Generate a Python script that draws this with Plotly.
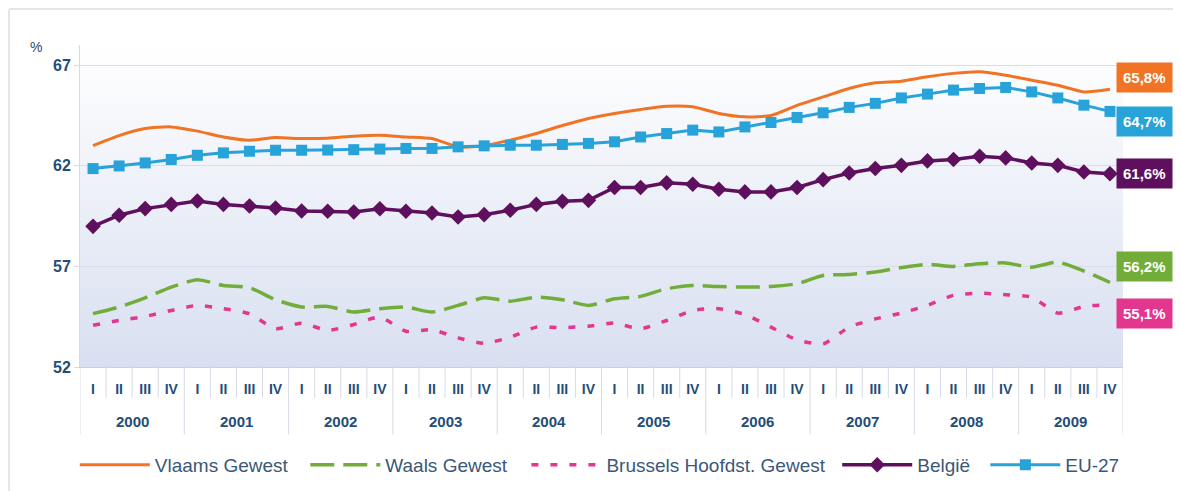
import base64
import plotly.graph_objects as go

years = [str(y) for y in range(2000, 2010)]
quarters = ["I", "II", "III", "IV"]
x_years = [y for y in years for _ in quarters]
x_quarters = [q for _ in years for q in quarters]

vlaams = [63.0, 63.5, 63.85, 63.93, 63.72, 63.43, 63.27, 63.4, 63.35, 63.37, 63.47, 63.52,
          63.43, 63.35, 62.94, 63.0, 63.27, 63.6, 64.0, 64.35, 64.6, 64.8, 64.96, 64.93,
          64.6, 64.43, 64.5, 65.0, 65.42, 65.84, 66.12, 66.2, 66.42, 66.59, 66.67, 66.5,
          66.25, 66.0, 65.67, 65.8]
waals = [54.65, 54.98, 55.44, 55.97, 56.34, 56.05, 55.94, 55.34, 54.98, 55.01, 54.73, 54.9,
         54.98, 54.73, 55.06, 55.44, 55.27, 55.47, 55.34, 55.06, 55.39, 55.51, 55.89, 56.05,
         56.0, 55.97, 56.0, 56.14, 56.55, 56.6, 56.72, 56.94, 57.1, 57.0, 57.13, 57.17,
         56.96, 57.21, 56.77, 56.2]
brussel = [54.07, 54.31, 54.51, 54.81, 55.06, 54.9, 54.65, 53.9, 54.18, 53.82, 54.11, 54.48,
           53.78, 53.85, 53.45, 53.18, 53.48, 53.98, 53.95, 54.03, 54.18, 53.9, 54.31, 54.81,
           54.9, 54.61, 53.98, 53.35, 53.15, 53.98, 54.39, 54.68, 55.06, 55.56, 55.67, 55.59,
           55.47, 54.68, 55.01, 55.1]
belgie = [58.99, 59.54, 59.87, 60.08, 60.25, 60.08, 60.0, 59.9, 59.75, 59.74, 59.7, 59.86,
          59.74, 59.65, 59.45, 59.57, 59.79, 60.08, 60.23, 60.28, 60.92, 60.92, 61.15, 61.08,
          60.83, 60.7, 60.7, 60.92, 61.31, 61.64, 61.86, 62.02, 62.24, 62.31, 62.47, 62.39,
          62.14, 62.02, 61.69, 61.6]
eu27 = [61.86, 61.99, 62.14, 62.31, 62.52, 62.64, 62.72, 62.77, 62.77, 62.78, 62.8, 62.83,
        62.86, 62.86, 62.94, 62.99, 63.02, 63.02, 63.06, 63.11, 63.19, 63.43, 63.6, 63.77,
        63.68, 63.93, 64.15, 64.4, 64.63, 64.9, 65.1, 65.37, 65.56, 65.76, 65.84, 65.89,
        65.67, 65.37, 65.01, 64.7]

series = [
    ("Vlaams Gewest", vlaams, "#f07424", "solid", None, "spline", 3),
    ("Waals Gewest", waals, "#72ad3a", "24px,9px", None, "spline", 3.5),
    ("Brussels Hoofdst. Gewest", brussel, "#e3368f", "7px,12px", None, "spline", 3.5),
    ("België", belgie, "#5e0f5e", "solid", "diamond", "linear", 3.5),
    ("EU-27", eu27, "#27a3d9", "solid", "square", "linear", 3),
]
label_shift = {"Vlaams Gewest": 12, "Waals Gewest": 16, "Brussels Hoofdst. Gewest": -9,
               "België": 0, "EU-27": -10}
legend_x = [-0.005, 0.216, 0.428, 0.726, 0.868]

FONT = "Liberation Sans, Arial"
fig = go.Figure()
idx = list(range(len(x_quarters)))
for k, (name, vals, color, dash, marker, shape, width) in enumerate(series):
    kw = dict(mode="lines")
    if marker:
        kw = dict(mode="lines+markers",
                  marker=dict(symbol=marker, size=12 if marker == "diamond" else 11, color=color))
    fig.add_trace(go.Scatter(x=idx, y=vals, name=name, showlegend=True,
                             customdata=list(zip(x_years, x_quarters)),
                             hovertemplate="%{customdata[1]} %{customdata[0]}: %{y}<extra>" + name + "</extra>",
                             legend="legend" if k == 0 else f"legend{k + 1}",
                             line=dict(color=color, width=width, dash=dash, shape=shape, smoothing=0.6),
                             **kw))

for name, vals, color, *_ in series:
    fig.add_annotation(x=len(vals) - 1, y=vals[-1], xref="x", yref="y",
                       text="<b>" + f"{vals[-1]:.1f}".replace(".", ",") + "%</b>",
                       showarrow=False, xanchor="left", yanchor="middle",
                       xshift=6, yshift=label_shift[name],
                       bgcolor=color, borderpad=6,
                       font=dict(color="white", size=15, family=FONT))

# year labels and axis dividers
for k, yr in enumerate(years):
    fig.add_annotation(x=4 * k + 1.5, y=-0.168, xref="x", yref="paper", text="<b>" + yr + "</b>",
                       showarrow=False, yanchor="middle",
                       font=dict(size=15, color="#1f4e79", family=FONT))
for i in range(len(idx) + 1):
    fig.add_shape(type="line", xref="x", yref="paper", x0=i - 0.5, x1=i - 0.5, y0=0,
                  y1=-0.21 if i % 4 == 0 else -0.096,
                  line=dict(color="#d5dbe5", width=1))

fig.add_annotation(x=-0.05, y=1.025, xref="paper", yref="paper", text="%", showarrow=False,
                   font=dict(size=14, color="#2b4a6e", family=FONT))

svg = ('<svg xmlns="http://www.w3.org/2000/svg" width="100" height="100" preserveAspectRatio="none">'
       '<defs><linearGradient id="g" x1="0" y1="0" x2="0" y2="1">'
       '<stop offset="0" stop-color="#ffffff"/><stop offset="1" stop-color="#d8dff0"/>'
       '</linearGradient></defs><rect width="100" height="100" fill="url(#g)"/></svg>')
src = "data:image/svg+xml;base64," + base64.b64encode(svg.encode()).decode()
fig.add_layout_image(source=src, xref="paper", yref="paper", x=0, y=1, sizex=1, sizey=1,
                     sizing="stretch", layer="below", xanchor="left", yanchor="top")

fig.add_shape(type="line", xref="paper", yref="paper", x0=-0.068, x1=1.06, y0=1.112, y1=1.112,
              line=dict(color="#e2e6ec", width=2))
fig.add_shape(type="line", xref="paper", yref="paper", x0=-0.068, x1=-0.068, y0=-0.4, y1=1.112,
              line=dict(color="#e2e6ec", width=2))

legend_common = dict(orientation="h", xanchor="left", yref="container", y=0.054, yanchor="middle",
                     font=dict(size=19, color="#3b5878", family=FONT), itemwidth=70,
                     bgcolor="rgba(0,0,0,0)")
legends = {("legend" if k == 0 else f"legend{k + 1}"): dict(x=lx, **legend_common)
           for k, lx in enumerate(legend_x)}

fig.update_layout(
    width=1173, height=483, showlegend=True,
    margin=dict(l=72, r=58, t=37, b=124),
    paper_bgcolor="white", plot_bgcolor="rgba(0,0,0,0)",
    font=dict(family=FONT, color="#3b5878"),
    xaxis=dict(range=[-0.5, len(idx) - 0.5], tickvals=idx, ticktext=x_quarters, showgrid=False,
               ticks="outside", ticklen=9, tickcolor="rgba(0,0,0,0)", zeroline=False,
               tickfont=dict(size=14, color="#1f4e79", family=FONT, weight="bold"),
               showline=True, linecolor="#c8d0dc"),
    yaxis=dict(range=[52, 68], tickvals=[52, 57, 62, 67], showgrid=True, gridcolor="#d8dde6",
               ticks="outside", ticklen=5, tickcolor="#d5dbe5", showline=True, linecolor="#d5dbe5",
               zeroline=False,
               tickfont=dict(size=16, color="#1f4e79", family=FONT, weight="bold")),
    **legends,
)

fig.write_html("out.html")
